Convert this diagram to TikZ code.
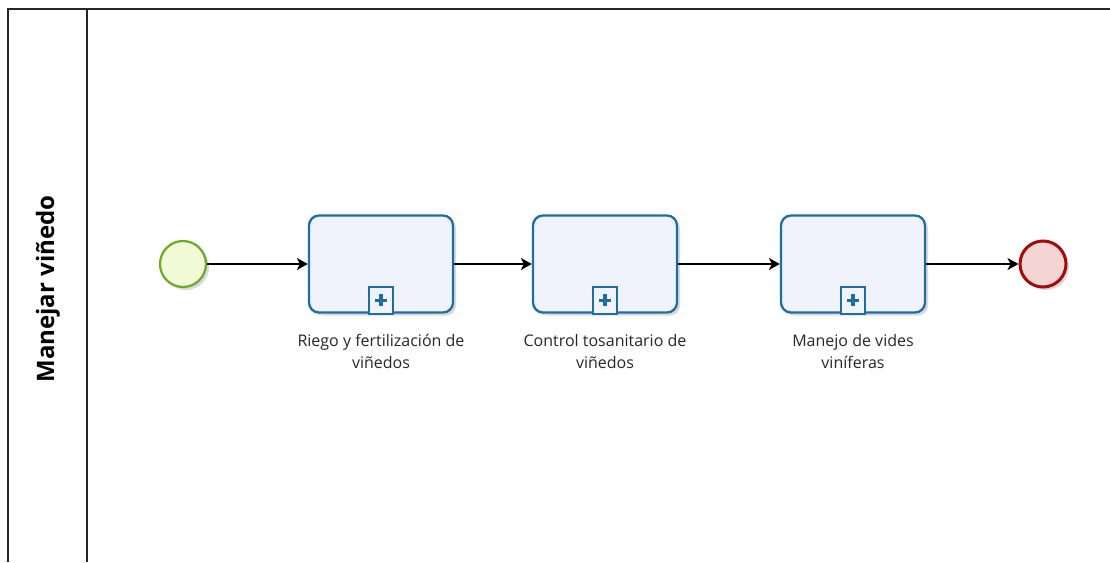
\documentclass[tikz,border=0pt]{standalone}
\usepackage{fontspec}
\setmainfont{Open Sans}
\usetikzlibrary{positioning,shadows,arrows.meta}
\definecolor{startline}{RGB}{106,170,35}
\definecolor{startfill}{RGB}{240,250,215}
\definecolor{endline}{RGB}{165,10,10}
\definecolor{endfill}{RGB}{245,212,212}
\definecolor{taskline}{RGB}{30,110,165}
\definecolor{taskfill}{RGB}{240,242,252}
\tikzset{
  evshadow/.style={drop shadow={shadow xshift=3pt,shadow yshift=-3pt,opacity=0.25,fill=black!60}},
  startev/.style={circle,draw=startline,line width=2.2pt,fill=startfill,minimum size=46pt,inner sep=0pt,evshadow},
  endev/.style={circle,draw=endline,line width=3pt,fill=endfill,minimum size=46pt,inner sep=0pt,evshadow},
  task/.style={rectangle,rounded corners=10pt,draw=taskline,line width=2.3pt,fill=taskfill,minimum width=144pt,minimum height=97pt,inner sep=0pt,evshadow},
  submark/.style={rectangle,draw=taskline,line width=1.8pt,fill=taskfill,minimum width=24pt,minimum height=27pt,inner sep=0pt,anchor=south},
  tasklbl/.style={align=center,font=\fontsize{16pt}{22pt}\selectfont,text=black!85,inner sep=0pt},
  flow/.style={-{Stealth[length=11pt,width=12pt,inset=3pt]},line width=1.3pt,black}
}
\newcommand{\plusmark}[1]{%
  \fill[taskline] ([xshift=-6pt,yshift=1.7pt]#1.center) rectangle ([xshift=6pt,yshift=-1.7pt]#1.center);
  \fill[taskline] ([xshift=-1.7pt,yshift=6pt]#1.center) rectangle ([xshift=1.7pt,yshift=-6pt]#1.center);}
\begin{document}
\begin{tikzpicture}[x=1pt,y=-1pt]
  \useasboundingbox (0,0) rectangle (1110,562);
  % pool and lane header
  \draw[line width=1.6pt,black!85] (8,562) -- (8,9) -- (1110,9);
  \draw[line width=1.6pt,black!85] (87,9) -- (87,562);
  \node[rotate=90,font=\fontsize{24pt}{26pt}\selectfont\bfseries] (lane) at (48,289) {Manejar viñedo};
  % events and tasks
  \node[startev] (start) at (183,264) {};
  \node[task] (t1) at (381,264) {};
  \node[task] (t2) at (605,264) {};
  \node[task] (t3) at (853,264) {};
  \node[endev] (end) at (1043,264) {};
  % subprocess markers
  \node[submark] (m1) at ([yshift=-1pt]t1.south) {};
  \node[submark] (m2) at ([yshift=-1pt]t2.south) {};
  \node[submark] (m3) at ([yshift=-1pt]t3.south) {};
  \plusmark{m1} \plusmark{m2} \plusmark{m3}
  % labels
  \node[tasklbl,below=20pt of t1] (l1) {Riego y fertilización de\\viñedos};
  \node[tasklbl,below=20pt of t2] (l2) {Control tosanitario de\\viñedos};
  \node[tasklbl,below=20pt of t3] (l3) {Manejo de vides\\viníferas};
  % sequence flows
  \draw[flow] (start) -- (t1);
  \draw[flow] (t1) -- (t2);
  \draw[flow] (t2) -- (t3);
  \draw[flow] (t3) -- (end);
\end{tikzpicture}
\end{document}
